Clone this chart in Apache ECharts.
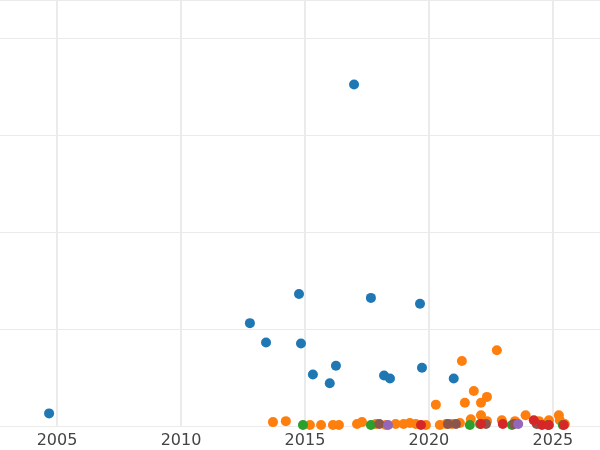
<!DOCTYPE html>
<html>
<head>
<meta charset="utf-8">
<script src="https://cdn.jsdelivr.net/npm/echarts@6/dist/echarts.min.js"></script>
<style>html,body{margin:0;padding:0;background:#fff}#chart{width:600px;height:450px}</style>
</head>
<body>
<div id="chart"></div>
<script>
var xTicks = [2005, 2010, 2015, 2020, 2025];

var blueData = [[2004.68,0.13],[2012.78,1.06],[2013.43,0.86],[2014.76,1.36],[2014.84,0.85],[2015.32,0.53],
    [2016.0,0.44],[2016.25,0.62],[2016.98,3.52],[2017.66,1.32],[2018.19,0.52],[2018.43,0.49],
    [2019.64,1.26],[2019.72,0.60],[2021.0,0.49]];
var orangeData = [[2013.71,0.04],[2014.23,0.05],[2015.2,0.01],[2015.65,0.01],[2016.13,0.01],[2016.37,0.01],
    [2017.1,0.02],[2017.3,0.04],[2017.86,0.02],[2018.26,0.01],[2018.66,0.02],[2018.98,0.02],[2019.23,0.03],
    [2019.47,0.02],[2019.88,0.01],[2020.28,0.22],[2020.44,0.01],[2020.69,0.02],[2020.93,0.02],[2021.33,0.67],
    [2021.25,0.03],[2021.45,0.24],[2021.69,0.07],[2021.81,0.36],[2022.1,0.24],[2022.1,0.11],[2022.34,0.30],
    [2022.34,0.05],[2022.74,0.78],[2022.94,0.06],[2023.47,0.05],[2023.9,0.11],[2024.44,0.05],[2024.84,0.06],
    [2025.24,0.11],[2025.28,0.06],[2025.48,0.02]];
var greenData = [[2014.92,0.01],[2017.66,0.01],[2021.65,0.01],[2022.06,0.02],[2023.35,0.01],[2024.8,0.01],[2025.4,0.01]];
var redData = [[2019.68,0.01],[2022.1,0.02],[2022.98,0.02],[2024.23,0.06],[2024.56,0.01],[2024.84,0.01],[2025.44,0.01]];
var brownData = [[2018.0,0.02],[2020.77,0.02],[2021.09,0.02],[2022.3,0.02],[2023.43,0.02],[2024.35,0.02]];
var purpleData = [[2018.35,0.01],[2023.6,0.02]];

var chart = echarts.init(document.getElementById('chart'));

function dots(name, color, data) {
    return {
        name: name,
        type: 'scatter',
        symbolSize: 10,
        clip: true,
        itemStyle: { color: color, opacity: 1 },
        data: data
    };
}

chart.setOption({
    animation: false,
    grid: { left: 0, right: 0, top: 0, bottom: 24, containLabel: false },
    xAxis: {
        type: 'value',
        min: 2002.7,
        max: 2026.9,
        axisLine: { show: false },
        axisTick: { show: false, customValues: xTicks },
        axisLabel: {
            customValues: xTicks,
            formatter: function (v) { return String(v); },
            color: '#444', fontSize: 16, fontFamily: 'DejaVu Sans', margin: 7
        },
        splitLine: { show: true, lineStyle: { color: '#ebebeb', width: 2 } }
    },
    yAxis: {
        type: 'value',
        min: 0,
        max: 4.39,
        interval: 1,
        axisLine: { show: false },
        axisTick: { show: false },
        axisLabel: { show: false },
        splitLine: { show: true, lineStyle: { color: '#ebebeb', width: 1 } }
    },
    series: [
        dots('a', '#1f77b4', blueData),
        dots('b', '#ff7f0e', orangeData),
        dots('c', '#2ca02c', greenData),
        dots('d', '#8c564b', brownData),
        dots('e', '#9467bd', purpleData),
        dots('f', '#d62728', redData)
    ]
});
</script>
</body>
</html>
